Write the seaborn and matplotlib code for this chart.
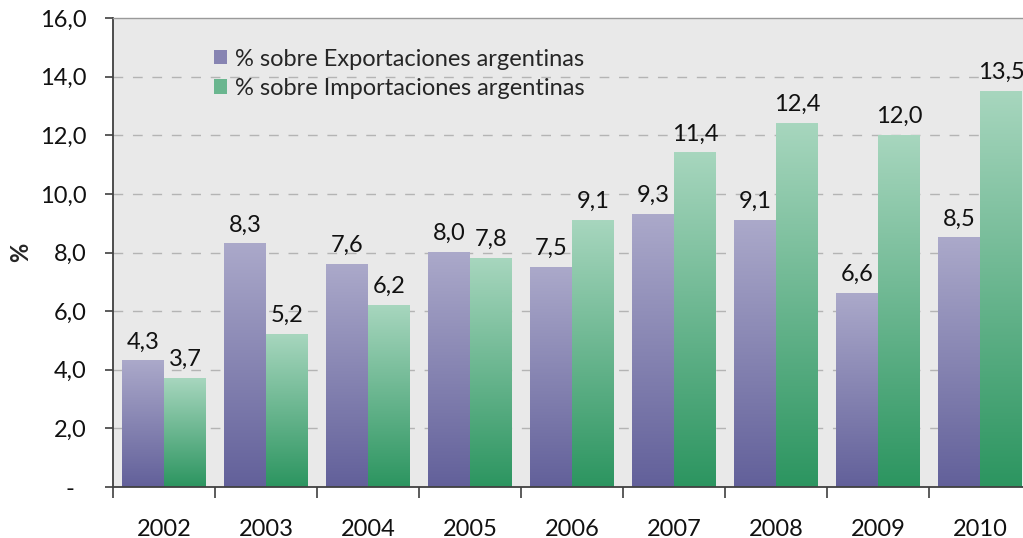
import numpy as np
import pandas as pd
import matplotlib
matplotlib.use("Agg")
import matplotlib.pyplot as plt
import matplotlib.ticker as mticker
from matplotlib.colors import to_rgb
from matplotlib.patches import Patch
import seaborn as sns

years = ["2002", "2003", "2004", "2005", "2006", "2007", "2008", "2009", "2010"]
exportaciones = [4.3, 8.3, 7.6, 8.0, 7.5, 9.3, 9.1, 6.6, 8.5]
importaciones = [3.7, 5.2, 6.2, 7.8, 9.1, 11.4, 12.4, 12.0, 13.5]
series_names = ["% sobre Exportaciones argentinas", "% sobre Importaciones argentinas"]

# gradient ends (top light, bottom dark)
grad = {
    series_names[0]: ("#aba9ca", "#62609a"),
    series_names[1]: ("#a7d6be", "#2c9560"),
}

df = pd.DataFrame({
    "year": years * 2,
    "value": exportaciones + importaciones,
    "serie": [series_names[0]] * len(years) + [series_names[1]] * len(years),
})

sns.set_style("white")
plt.rcParams["font.family"] = ["Lato", "DejaVu Sans"]
FS = 17

fig = plt.figure(figsize=(10.23, 5.38), dpi=100)
ax = fig.add_axes([113 / 1023, 51 / 538, 918 / 1023, 469 / 538])
ax.set_facecolor("#e9e9e9")

mid = {k: tuple((np.array(to_rgb(a)) + np.array(to_rgb(b))) / 2) for k, (a, b) in grad.items()}
sns.barplot(data=df, x="year", y="value", hue="serie", palette=mid,
            width=0.82, dodge=True, ax=ax, legend=False, zorder=2)

# replace flat bars with vertical gradients
bars = [p for p in ax.patches if p.get_height() > 0]
for i, p in enumerate(bars):
    name = series_names[0] if i < len(years) else series_names[1]
    top, bot = np.array(to_rgb(grad[name][0])), np.array(to_rgb(grad[name][1]))
    t = np.linspace(0, 1, 256)[:, None]
    img = (bot * (1 - t) + top * t)[:, None, :]
    x, w, h = p.get_x(), p.get_width(), p.get_height()
    ax.imshow(img, extent=[x, x + w, 0, h], origin="lower", aspect="auto", zorder=2)
    p.set_visible(False)
    lab = f"{h:.1f}".replace(".", ",")
    ax.annotate(lab, (x + w / 2, h), xytext=(0, 6), textcoords="offset points",
                ha="center", va="bottom", fontsize=FS, color="#111111", zorder=3,
                annotation_clip=False)

ax.set_xlim(-0.5, len(years) - 0.5)
ax.set_ylim(0, 16)
ax.yaxis.set_major_locator(mticker.MultipleLocator(2))
ax.yaxis.set_major_formatter(mticker.FuncFormatter(
    lambda v, pos: "-  " if v == 0 else f"{v:.1f}".replace(".", ",")))

for yv in range(2, 16, 2):
    ax.axhline(yv, color="#b4b4b4", lw=1, ls=(0, (7, 7)), zorder=1)

ax.xaxis.set_minor_locator(mticker.FixedLocator(np.arange(-0.5, len(years), 1)))
ax.tick_params(axis="x", which="major", length=0, pad=23, labelsize=FS)
ax.tick_params(axis="x", which="minor", length=8, width=1.2, color="#404040", direction="out")
ax.tick_params(axis="y", length=6, width=1.2, color="#404040", direction="out", pad=13, labelsize=FS)
ax.tick_params(axis="both", labelcolor="#111111")
ax.xaxis.set_ticks_position("bottom")
ax.yaxis.set_ticks_position("left")

ax.set_xlabel("")
ax.set_ylabel("%", fontsize=FS, fontweight="bold")
ax.yaxis.set_label_coords(-0.088, 0.5)

for s in ["left", "bottom"]:
    ax.spines[s].set_color("#404040")
    ax.spines[s].set_linewidth(1.3)
ax.spines["top"].set_color("#9a9a9a")
ax.spines["top"].set_linewidth(1)
ax.spines["right"].set_visible(False)

handles = [Patch(facecolor=mid[n], edgecolor="none") for n in series_names]
leg = ax.legend(handles, series_names, loc="upper left", bbox_to_anchor=(0.1, 0.955),
                frameon=False, fontsize=FS, handlelength=0.55, handleheight=0.55,
                handletextpad=0.35, labelspacing=0.35, borderaxespad=0)

fig.savefig("out.png", dpi=100)
